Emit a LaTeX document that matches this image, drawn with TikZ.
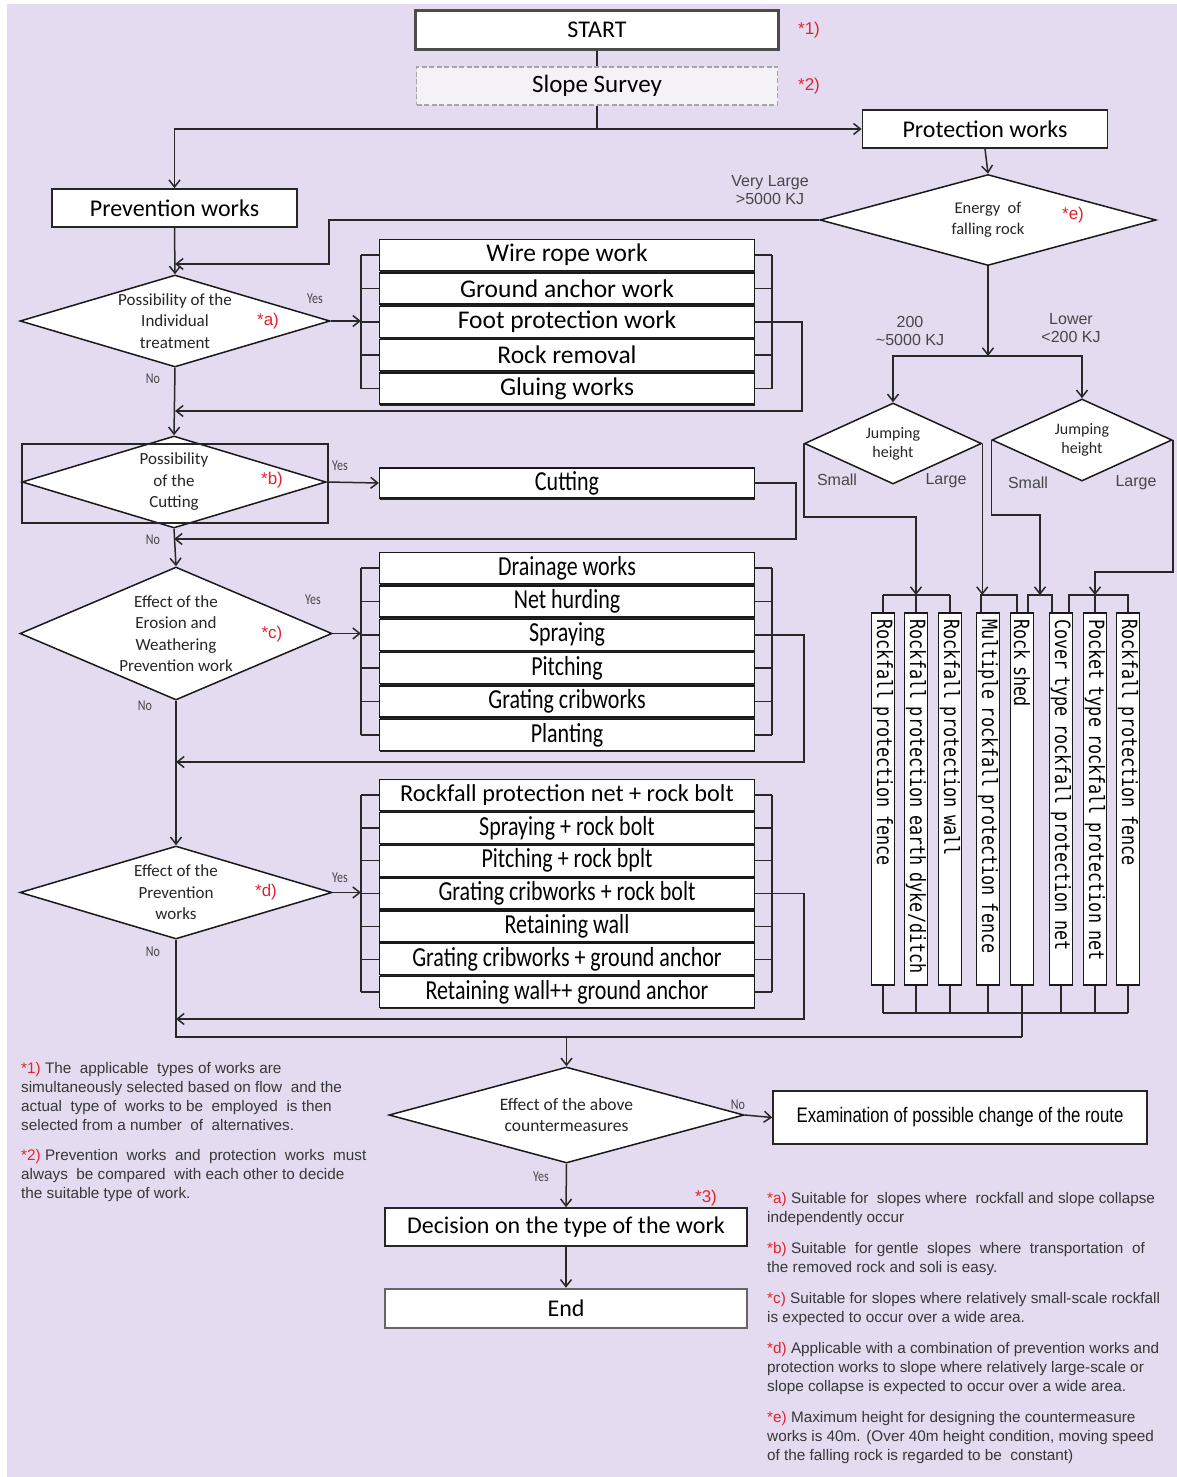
\documentclass[tikz,border=0pt]{standalone}
\usepackage{fontspec}
\setmainfont{Carlito}
\newfontfamily\condfont[FakeStretch=0.8]{Carlito}
\newfontfamily\gothfont{Liberation Sans}
\newfontfamily\examfont[FakeStretch=0.8]{Liberation Sans}
\newfontfamily\vmonofont[FakeStretch=0.8]{DejaVu Sans Mono}
\usetikzlibrary{shapes.geometric,arrows.meta,shadows,calc}

\definecolor{bgcol}{RGB}{228,219,240}
\definecolor{notered}{RGB}{226,34,45}
\definecolor{linecol}{RGB}{40,40,40}
\definecolor{notegray}{RGB}{55,55,55}
\definecolor{labgray}{RGB}{70,70,70}
\definecolor{surveyfill}{RGB}{244,242,247}

\newcommand{\fsz}[2]{\fontsize{#1}{#2}\selectfont}

\begin{document}
\begin{tikzpicture}[x=1pt,y=-1pt,
  conn/.style={draw=linecol, line width=1.5pt},
  arr/.style={conn, -{Straight Barb[length=7pt,width=11pt]}},
  mainbox/.style={draw=black!85, line width=1.7pt, fill=white, inner sep=0pt, font=\fsz{24}{28}},
  startbox/.style={mainbox, draw=black!70, line width=2.4pt},
  surveybox/.style={draw=gray!70, dash pattern=on 5pt off 2.5pt, line width=1.3pt, fill=surveyfill, inner sep=0pt, font=\fsz{25}{28}},
  endbox/.style={mainbox, draw=black!60, line width=2.6pt},
  itembox/.style={draw=black!90, line width=1.3pt, fill=white, inner sep=0pt,
    minimum width=375pt, minimum height=31pt,
    general shadow={fill=black!85, shadow yshift=-1.6pt}},
  itemA/.style={itembox, font=\fsz{25.5}{27}},
  itemC/.style={itembox, font=\condfont\fsz{27.5}{29}},
  decision/.style={diamond, draw=black!90, line width=1.5pt, fill=white, inner sep=0pt},
  dtext/.style={font=\fsz{17}{21.5}, align=center, inner sep=0pt, text=black!85},
  jtext/.style={font=\fsz{16}{19}, align=center, inner sep=0pt, text=black!85},
  vbox/.style={draw=black!90, line width=1.3pt, fill=white, rotate=-90,
    minimum width=372pt, minimum height=23pt, inner xsep=6pt, inner ysep=0pt,
    text width=360pt, align=left, font=\vmonofont\fsz{21}{21}},
  yn/.style={font=\condfont\fsz{15}{17}, text=labgray, inner sep=0pt},
  redmark/.style={font=\gothfont\fsz{17}{19}, text=notered, inner sep=0pt},
  energy/.style={font=\gothfont\fsz{16}{17.5}, text=labgray, align=center, inner sep=0pt},
  note/.style={font=\gothfont\fsz{15.3}{19}, text=notegray, align=left, anchor=north west, inner sep=0pt}
]
\useasboundingbox (0,0) rectangle (1177,1477);
\fill[bgcol] (7,4) rectangle (1177,1477);

% ---------- start and branching ----------
\node[startbox, minimum width=363pt, minimum height=39pt] (start) at (597,30) {START};
\node[surveybox, minimum width=361pt, minimum height=38pt] (survey) at (597,86) {Slope Survey};
\node[redmark] (m1) at (809,30) {*1)};
\node[redmark] (m2) at (809,86) {*2)};
\node[mainbox, minimum width=245pt, minimum height=38pt] (protect) at (985,129) {Protection works};
\node[mainbox, minimum width=245pt, minimum height=38pt] (prevent) at (174.5,208) {Prevention works};

% ---------- prevention branch: decisions ----------
\node[decision, minimum width=310pt, minimum height=92pt,
  label={[dtext]center:Possibility of the\\Individual\\treatment}] (dA) at (175,321) {};
\node[decision, minimum width=304pt, minimum height=92pt,
  label={[dtext]center:Possibility\\of the\\Cutting}] (dB) at (174,482) {};
\node[draw=black!85, line width=1.3pt, minimum width=306pt, minimum height=79pt, inner sep=0pt] (frameB) at (175,483.5) {};
\node[decision, minimum width=312pt, minimum height=133pt,
  label={[dtext]center:Effect of the\\Erosion and\\Weathering\\Prevention work}] (dC) at (176,633.5) {};
\node[decision, minimum width=312pt, minimum height=93pt,
  label={[dtext]center:Effect of the\\Prevention\\works}] (dD) at (176,892.5) {};

\node[redmark] (ma) at (268,321) {*a)};
\node[redmark] (mb) at (272,480) {*b)};
\node[redmark] (mc) at (272,634) {*c)};
\node[redmark] (md) at (266,892) {*d)};

\node[yn] (yA) at (315,299) {Yes};
\node[yn] (nA) at (153,379) {No};
\node[yn] (yB) at (340,466) {Yes};
\node[yn] (nB) at (153,540) {No};
\node[yn] (yC) at (313,600) {Yes};
\node[yn] (nC) at (145,706) {No};
\node[yn] (yD) at (340,878) {Yes};
\node[yn] (nD) at (153,952) {No};

% ---------- lists of prevention works ----------
\foreach \t [count=\i] in {Wire rope work, Ground anchor work, Foot protection work, Rock removal, Gluing works}
  \node[itemA] (a\i) at (567,{255+33.4*(\i-1)}) {\t};
\node[itemC, minimum height=30pt] (cut) at (567,483) {Cutting};
\foreach \t [count=\i] in {Drainage works, Net hurding, Spraying, Pitching, Grating cribworks, Planting}
  \node[itemC] (c\i) at (567,{568+33.4*(\i-1)}) {\t};
\node[itembox, font=\fsz{24.3}{26}] (d1) at (567,795) {Rockfall protection net + rock bolt};
\foreach \t [count=\j from 2] in {Spraying + rock bolt, Pitching + rock bplt, Grating cribworks + rock bolt, Retaining wall, Grating cribworks + ground anchor, Retaining wall++ ground anchor}
  \node[itemC] (d\j) at (567,{795+32.85*(\j-1)}) {\t};

% brackets joining each list
\coordinate (bL) at (361,0);
\coordinate (bR) at (772,0);
\foreach \i in {1,...,5} {
  \draw[conn] (a\i.west) -- (a\i.west -| bL);
  \draw[conn] (a\i.east) -- (a\i.east -| bR);
}
\draw[conn] (a1.west -| bL) -- (a5.west -| bL);
\draw[conn] (a1.east -| bR) -- (a5.east -| bR);
\foreach \i in {1,...,6} {
  \draw[conn] (c\i.west) -- (c\i.west -| bL);
  \draw[conn] (c\i.east) -- (c\i.east -| bR);
}
\draw[conn] (c1.west -| bL) -- (c6.west -| bL);
\draw[conn] (c1.east -| bR) -- (c6.east -| bR);
\foreach \i in {1,...,7} {
  \draw[conn] (d\i.west) -- (d\i.west -| bL);
  \draw[conn] (d\i.east) -- (d\i.east -| bR);
}
\draw[conn] (d1.west -| bL) -- (d7.west -| bL);
\draw[conn] (d1.east -| bR) -- (d7.east -| bR);

% ---------- main prevention flow ----------
\draw[conn] (start.south) -- (survey.north);
\coordinate (split) at (survey.south |- protect.west);
\draw[conn] (survey.south) -- (split);
\draw[arr] (split) -- (protect.west);
\draw[arr] (split) -| (prevent.north);
\draw[arr] (prevent.south) -- (dA.north);
\draw[arr] (dA.east) -- (dA.east -| bL);
\draw[arr] (dA.south) -- (dB.north);
\draw[arr] (dB.east) -- (cut.west);
\draw[arr] (dB.south) -- (dC.north);
\draw[arr] (dC.east) -- (dC.east -| bL);
\draw[arr] (dC.south) -- (dD.north);
\draw[arr] (dD.east) -- (dD.east -| bL);

% returns to the main line
\coordinate (rA) at (802,411);
\draw[arr] (a3.east) -| (rA) -- (rA -| dA.south);
\coordinate (rB) at (796,539);
\draw[arr] (cut.east) -| (rB) -- (rB -| dB.south);
\coordinate (rC) at (804,762);
\draw[arr] (c3.east) -| (rC) -- (rC -| dC.south);
\coordinate (rD) at (804,1019);
\draw[arr] (d4.east) -| (rD) -- (rD -| dD.south);

% ---------- protection branch ----------
\node[decision, minimum width=336pt, minimum height=91pt,
  label={[dtext, font=\fsz{16.5}{21}]center:Energy\ \ of\\falling rock}] (dEn) at (988,220) {};
\node[redmark] (me) at (1073,215) {*e)};
\node[energy] (eVL) at (770,190) {Very Large\\>5000 KJ};
\node[energy] (eMid) at (910,331) {200\\\textasciitilde5000 KJ};
\node[energy] (eLow) at (1071,328) {Lower\\<200 KJ};

\node[decision, minimum width=177pt, minimum height=81pt,
  label={[jtext]center:Jumping\\height}] (dJ1) at (893,443.5) {};
\node[decision, minimum width=180pt, minimum height=82pt,
  label={[jtext]center:Jumping\\height}] (dJ2) at (1082,440) {};
\node[energy] (s1) at (837,480) {Small};
\node[energy] (l1) at (946,481) {Large};
\node[energy] (s2) at (1028,483) {Small};
\node[energy] (l2) at (1136,483) {Large};

\draw[arr] (protect.south) -- (dEn.north);
\draw[arr] (dEn.west) -| (329,264) -- (dA.north |- 0,264);
\coordinate (eSplit) at (dEn.south |- 0,356);
\draw[arr] (dEn.south) -- (eSplit);
\draw[arr] (eSplit) -| (dJ1.north);
\draw[arr] (eSplit) -| (dJ2.north);

% protection works
\node[vbox] (v1) at (883,799) {Rockfall protection fence};
\node[vbox] (v2) at (916,799) {Rockfall protection earth dyke/ditch};
\node[vbox] (v3) at (950,799) {Rockfall protection wall};
\node[vbox] (v4) at (988,799) {Multiple rockfall protection fence};
\node[vbox] (v5) at (1022,799) {Rock shed};
\node[vbox] (v6) at (1061,799) {Cover type rockfall protection net};
\node[vbox] (v7) at (1095,799) {Pocket type rockfall protection net};
\node[vbox] (v8) at (1128,799) {Rockfall protection fence};

% top collectors
\draw[conn] (v1.west |- 0,595) -- (v3.west |- 0,595);
\foreach \i in {1,2,3} \draw[conn] (v\i.west |- 0,595) -- (v\i.west);
\draw[conn] (981,0 |- v4.west) |- (1017,595) -- (1017,0 |- v5.west);
\draw[conn] (1028,0 |- v5.west) |- (1052,595) -- (1052,0 |- v6.west);
\draw[conn] (1069,0 |- v6.west) |- (v8.west |- 0,595) -- (v8.west);
\draw[conn] (v7.west |- 0,595) -- (v7.west);

% jumping height branches
\draw[arr] (dJ1.west) -- (dJ1.west |- 0,517) -| (v2.west |- 0,595);
\draw[arr] (dJ1.east) -- (dJ1.east |- 0,595);
\draw[arr] (dJ2.west) -- (dJ2.west |- 0,515) -| (1040,595);
\draw[arr] (dJ2.east) -- (dJ2.east |- 0,572) -| (v7.west |- 0,595);

% bottom collector
\foreach \i in {1,...,8} \draw[conn] (v\i.east) -- (v\i.east |- 0,1013);
\draw[conn] (v1.east |- 0,1013) -- (v8.east |- 0,1013);
\coordinate (mergeR) at (v5.east |- 0,1037);
\draw[conn] (v5.east |- 0,1013) -- (mergeR);
\draw[conn] (dD.south) |- (mergeR);

% ---------- final evaluation ----------
\node[decision, minimum width=355pt, minimum height=96pt,
  label={[dtext, font=\fsz{17.5}{21}]center:Effect of the above\\countermeasures}] (dE) at (566.5,1115) {};
\node[mainbox, font=\examfont\fsz{21}{24}, line width=1.5pt, minimum width=374pt, minimum height=53pt] (exam) at (960,1117.5) {Examination of possible change of the route};
\node[mainbox, minimum width=362pt, minimum height=38pt] (dec) at (566,1227) {Decision on the type of the work};
\node[endbox, minimum width=362pt, minimum height=39pt] (endbox) at (566,1308.5) {End};
\node[redmark] (m3) at (706,1198) {*3)};
\node[yn] (nE) at (738,1105) {No};
\node[yn] (yE) at (541,1177) {Yes};

\draw[arr] (dE.north |- mergeR) -- (dE.north);
\draw[arr] (dE.east) -- (exam.west);
\draw[arr] (dE.south) -- (dec.north);
\draw[arr] (dec.south) -- (endbox.north);

% ---------- notes ----------
\node[note] (n1) at (21,1062) {\textcolor{notered}{*1)} The\ \ applicable\ \ types of works are\\simultaneously selected based on flow\ \ and the\\actual\ \ type of\ \ works to be\ \ employed\ \ is then\\selected from a number\ \ of\ \ alternatives.};
\node[note] (n2) at (21,1149) {\textcolor{notered}{*2)} Prevention\ \ works\ \ and\ \ protection\ \ works\ \ must\\always\ \ be compared\ \ with each other to decide\\the suitable type of work.};

\node[note] (na) at (767,1192) {\textcolor{notered}{*a)} Suitable for\ \ slopes where\ \ rockfall and slope collapse\\independently occur};
\node[note] (nb) at (767,1242) {\textcolor{notered}{*b)} Suitable\ \ for gentle\ \ slopes\ \ where\ \ transportation\ \ of\\the removed rock and soli is easy.};
\node[note] (nc) at (767,1292) {\textcolor{notered}{*c)} Suitable for slopes where relatively small-scale rockfall\\is expected to occur over a wide area.};
\node[note] (nd) at (767,1342) {\textcolor{notered}{*d)} Applicable with a combination of prevention works and\\protection works to slope where relatively large-scale or\\slope collapse is expected to occur over a wide area.};
\node[note] (ne) at (767,1411) {\textcolor{notered}{*e)} Maximum height for designing the countermeasure\\works is 40m. (Over 40m height condition, moving speed\\of the falling rock is regarded to be\ \ constant)};
\end{tikzpicture}
\end{document}
